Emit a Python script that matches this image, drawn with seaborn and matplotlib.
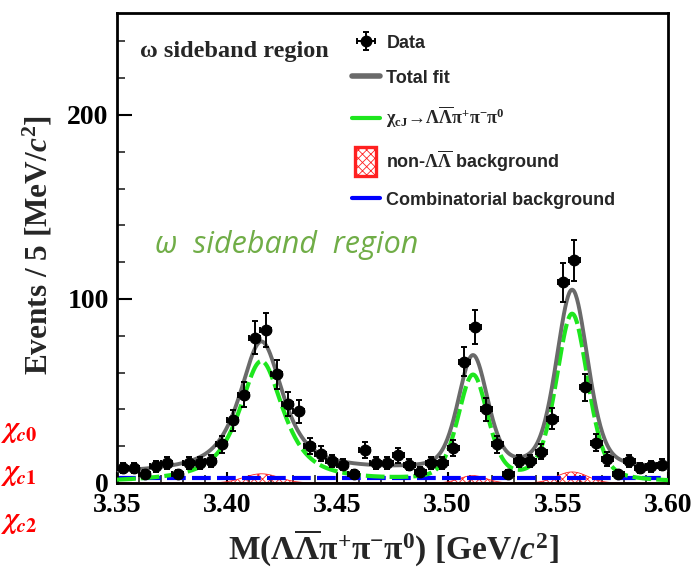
import numpy as np
import matplotlib
matplotlib.use("Agg")
import matplotlib.pyplot as plt
import seaborn as sns
from matplotlib.lines import Line2D
from matplotlib.patches import Patch, Rectangle
from matplotlib.legend_handler import HandlerPatch
from matplotlib.ticker import MultipleLocator, FormatStrFormatter

# ---- measured spectrum: bin centres [GeV/c^2] and events per 5 MeV/c^2 ----
bin_centers = [3.3525, 3.3575, 3.3625, 3.3675, 3.3725, 3.3775, 3.3825, 3.3875, 3.3925, 3.3975,
               3.4025, 3.4075, 3.4125, 3.4175, 3.4225, 3.4275, 3.4325, 3.4375, 3.4425, 3.4475,
               3.4525, 3.4575, 3.4625, 3.4675, 3.4725, 3.4775, 3.4825, 3.4875, 3.4925, 3.4975,
               3.5025, 3.5075, 3.5125, 3.5175, 3.5225, 3.5275, 3.5325, 3.5375, 3.5425, 3.5475,
               3.5525, 3.5575, 3.5625, 3.5675, 3.5725, 3.5775, 3.5825, 3.5875, 3.5925, 3.5975]
counts = [8, 8, 5, 9, 11, 5, 11, 11, 12, 21,
          34, 48, 79, 83, 59, 43, 39, 20, 16, 12,
          10, 5, 18, 11, 11, 15, 10, 6, 11, 11,
          19, 66, 85, 40, 21, 5, 12, 12, 17, 35,
          109, 121, 52, 22, 13, 5, 12, 8, 9, 10]
half_bin = 0.0025

# ---- fitted chi_cJ line shapes (chi_c0, chi_c1, chi_c2) ----
peak_mass = [3.4155, 3.5115, 3.5565]
peak_height = [66.0, 57.0, 91.0]
peak_fwhm = [0.024, 0.016, 0.017]
peak_lorentz_frac = [0.80, 0.35, 0.35]

# ---- non-Lambda Lambdabar background bumps under the peaks ----
nonll_height = [5.0, 4.0, 6.0]
nonll_width = [0.008, 0.006, 0.007]

# ---- combinatorial level and smooth residual background at the range ends ----
comb_level = 2.5
smooth_bkg_ends = [2.5, 5.0]

x_range = [3.35, 3.60]
y_range = [0.0, 255.4]

C_TOTAL = "#6a6a6a"
C_SIG = "#1ee61e"
C_COMB = "#0000ff"
C_NONLL = "#ff2020"


def line_shape(x, m, h, fwhm, eta):
    u = (x - m) / (fwhm / 2.0)
    return h * (eta / (1.0 + u ** 2) + (1.0 - eta) * np.exp(-np.log(2.0) * u ** 2))


grid = np.linspace(x_range[0], x_range[1], 800)
signal = sum(line_shape(grid, m, h, w, e)
             for m, h, w, e in zip(peak_mass, peak_height, peak_fwhm, peak_lorentz_frac))
nonll = sum(h * np.exp(-0.5 * ((grid - m) / w) ** 2)
            for m, h, w in zip(peak_mass, nonll_height, nonll_width))
comb = np.full_like(grid, comb_level)
smooth = np.interp(grid, x_range, smooth_bkg_ends)
total = signal + nonll + comb + smooth

# ---- style ----
sns.set_theme(style="ticks")
plt.rcParams["font.family"] = ["Liberation Serif", "DejaVu Serif"]
plt.rcParams["font.weight"] = "bold"
plt.rcParams["mathtext.fontset"] = "custom"
plt.rcParams["mathtext.rm"] = "Liberation Serif"
plt.rcParams["mathtext.it"] = "Liberation Serif:italic:bold"
plt.rcParams["mathtext.bf"] = "Liberation Serif:bold"
plt.rcParams["hatch.linewidth"] = 0.6

fig = plt.figure(figsize=(6.97, 5.69), dpi=100)
ax = fig.add_axes([117 / 697, 1 - 483 / 569, 551 / 697, 470 / 569])

# non-Lambda Lambdabar background (hatched)
ax.fill_between(grid, 0, nonll, facecolor="none", edgecolor=C_NONLL,
                hatch="xxxx", linewidth=0.6, zorder=1)

# combinatorial background
sns.lineplot(x=grid, y=comb, ax=ax, color=C_COMB, linewidth=3,
             linestyle=(0, (4.5, 1.5)), sort=False, estimator=None, zorder=2)

# chi_cJ signal
sns.lineplot(x=grid, y=signal, ax=ax, color=C_SIG, linewidth=3,
             linestyle=(0, (4.5, 1.2)), sort=False, estimator=None, zorder=3)

# total fit
sns.lineplot(x=grid, y=total, ax=ax, color=C_TOTAL, linewidth=2.8,
             sort=False, estimator=None, zorder=4)

# data with Poisson errors
data_h = ax.errorbar(bin_centers, counts, yerr=np.sqrt(counts), xerr=half_bin,
                     fmt="o", color="black", markersize=7.5, elinewidth=1.4,
                     capsize=2.2, capthick=1.4, zorder=5)

ax.set_xlim(*x_range)
ax.set_ylim(*y_range)

# ---- axes, ticks ----
for s in ax.spines.values():
    s.set_linewidth(2.0)
    s.set_color("black")

ax.set_xticks([3.35, 3.40, 3.45, 3.50, 3.55, 3.60])
ax.xaxis.set_major_formatter(FormatStrFormatter("%.2f"))
ax.xaxis.set_minor_locator(MultipleLocator(0.01))
ax.set_yticks([0, 100, 200])
ax.yaxis.set_minor_locator(MultipleLocator(20))

ax.tick_params(axis="x", which="major", direction="in", length=8, width=1.5,
               top=False, bottom=True, labelsize=20, pad=7, colors="black")
ax.tick_params(axis="x", which="minor", direction="in", length=6, width=1.2,
               top=False, bottom=True)
ax.tick_params(axis="y", which="major", direction="in", length=11, width=1.5,
               right=False, left=True, labelsize=20, pad=6, colors="black")
ax.tick_params(axis="y", which="minor", direction="in", length=6, width=1.2,
               right=False, left=True)
for lab in ax.get_xticklabels() + ax.get_yticklabels():
    lab.set_fontweight("bold")

ax.set_xlabel(r"M($\mathbf{\Lambda\overline{\Lambda}\pi^{+}\pi^{-}\pi^{0}}$) "
              r"[GeV/$\mathit{c}^{\mathbf{2}}$]", fontsize=24, fontweight="bold")
ax.xaxis.set_label_coords((393 - 117) / 551, (482.5 - 527) / 470)
ax.set_ylabel(r"Events / 5 [MeV/$\mathit{c}^{\mathbf{2}}$]", fontsize=22.5,
              fontweight="bold")
ax.yaxis.set_label_coords((54 - 117) / 551, (482.5 - 245) / 470)

# ---- in-plot annotations ----
ax.text((140 - 117) / 551, (482.5 - 51) / 470, "\u03c9 sideband region",
        transform=ax.transAxes, fontsize=17.5, fontweight="bold", va="center", ha="left")
ax.text((155 - 117) / 551, (482.5 - 245) / 470, "\u03c9  sideband  region",
        transform=ax.transAxes, fontsize=22, color="#70ad47", style="italic",
        fontweight="normal", family=["Open Sans", "DejaVu Sans"], va="center", ha="left")

for label, yc in zip([r"$\chi_{c0}$", r"$\chi_{c1}$", r"$\chi_{c2}$"], [432, 475, 523]):
    fig.text(1 / 697, 1 - yc / 569, label, color="red", fontsize=21,
             math_fontfamily="stix", va="center", ha="left", fontweight="normal")

# ---- legend ----
def box_patch(legend, orig_handle, xdescent, ydescent, width, height, fontsize):
    w = 0.75 * width
    h = 2.3 * height
    return Rectangle((-xdescent + (width - w) / 2, -ydescent + (height - h) / 2), w, h)


h_total = Line2D([], [], color=C_TOTAL, linewidth=4)
h_sig = Line2D([], [], color=C_SIG, linewidth=3)
h_nonll = Patch(facecolor="white", edgecolor=C_NONLL, hatch="xxxx", linewidth=2.4)
h_comb = Line2D([], [], color=C_COMB, linewidth=3)

leg = ax.legend(
    [data_h, h_total, h_sig, h_nonll, h_comb],
    ["Data", "Total fit",
     r"$\mathrm{\chi}_{\mathbf{cJ}}\!\rightarrow\!\mathrm{\Lambda\overline{\Lambda}\pi^{+}\pi^{-}\pi^{0}}$",
     r"non-$\mathrm{\Lambda\overline{\Lambda}}$ background",
     "Combinatorial background"],
    loc="upper left", bbox_to_anchor=((352 - 117) / 551, (482.5 - 34) / 470),
    frameon=False, borderpad=0, borderaxespad=0, handlelength=1.55,
    handletextpad=0.35, labelspacing=1.0,
    prop={"family": "Liberation Sans", "weight": "bold", "size": 13},
    handler_map={Patch: HandlerPatch(patch_func=box_patch)},
)

fig.savefig("out.png", dpi=100)
